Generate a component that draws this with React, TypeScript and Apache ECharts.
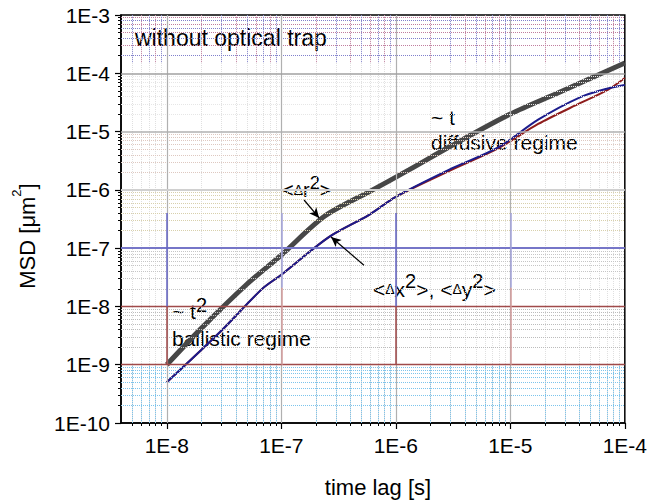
import React, { useEffect, useRef } from 'react';
import * as echarts from 'echarts';

const FONT = "'Liberation Sans', Arial, Helvetica, sans-serif";

// <Δr²> (grey, thick)
const rTime = [1e-8, 2e-8, 5e-8, 1e-7, 2.4e-7, 6e-7, 1.3e-6, 3e-6, 1e-5, 2.6e-5, 1e-4];
const rMsd = [1.0e-9, 4.2e-9, 2.4e-8, 7.6e-8, 3.55e-7, 9.5e-7, 2.2e-6, 5.6e-6, 2.0e-5, 4.6e-5, 1.5e-4];
// <Δx²> (blue)
const xTime = [1e-8, 2.9e-8, 6.8e-8, 1e-7, 2.6e-7, 5.8e-7, 1e-6, 2.9e-6, 7.9e-6, 1.75e-5, 4.1e-5, 7.1e-5, 1e-4];
const xMsd = [5.0e-10, 3.6e-9, 2.0e-8, 3.5e-8, 1.55e-7, 3.7e-7, 7.6e-7, 2.2e-6, 5.4e-6, 1.6e-5, 3.9e-5, 5.5e-5, 6.3e-5];
// <Δy²> (red)
const yTime = [1e-8, 2.9e-8, 6.8e-8, 1e-7, 2.6e-7, 5.8e-7, 1e-6, 2.9e-6, 7.9e-6, 1.75e-5, 4.1e-5, 7.1e-5, 1e-4];
const yMsd = [5.0e-10, 3.6e-9, 2.0e-8, 3.5e-8, 1.55e-7, 3.7e-7, 7.6e-7, 2.1e-6, 5.2e-6, 1.35e-5, 3.1e-5, 5.2e-5, 8.3e-5];

// axes
const xMin = 3.98e-9;
const xMax = 1e-4;
const yMin = 1e-10;
const yMax = 1e-3;
const xTicks = [1e-8, 1e-7, 1e-6, 1e-5, 1e-4];
const yTicks = [1e-10, 1e-9, 1e-8, 1e-7, 1e-6, 1e-5, 1e-4, 1e-3];

// arrows (data coordinates)
const arrowDr = [[1.58e-7, 6.7e-7], [2.14e-7, 3.3e-7]];
const arrowDx = [[5.27e-7, 5.1e-8], [2.72e-7, 1.55e-7]];

function minorValues(lo: number, hi: number): number[] {
  const out: number[] = [];
  const e0 = Math.floor(Math.log10(lo));
  const e1 = Math.ceil(Math.log10(hi));
  for (let e = e0; e < e1; e++) {
    for (let k = 2; k <= 9; k++) {
      const v = k * Math.pow(10, e);
      if (v > lo * 1.05 && v < hi) out.push(v);
    }
  }
  return out;
}
const xMinor = minorValues(xMin, xMax);
const yMinor = minorValues(yMin, yMax);

const pairs = (t: number[], v: number[]) => t.map((x, i) => [x, v[i]]);
const fmt = (v: number) => '1E' + Math.round(Math.log10(v));

// styles of major horizontal grid lines, by y tick index (null = not drawn)
const hStyles: any[] = [
  null,
  { color: '#a04a4a', width: 1.3 },
  { color: '#a04a4a', width: 1.3 },
  { color: '#7676c8', width: 2 },
  { color: '#d0d0d0', width: 2.2 },
  { color: '#b0b0b0', width: 1.5 },
  { color: '#a0a0a0', width: 1.5 },
  null,
];
// minor horizontal colours by decade (from 1E-10 upwards)
const decadeColors = ['#7cc4ec', '#bcbcbc', '#c6c6c6', '#d8d0ac', '#dec8c0', '#e6e6e6', '#c07e9e'];

export default function App() {
  const ref = useRef<HTMLDivElement>(null);

  useEffect(() => {
    if (!ref.current) return;
    const chart = echarts.init(ref.current, undefined, { renderer: 'svg' });

    const seg = (a: number[], b: number[], style: any) => [{ coord: a, lineStyle: style }, { coord: b }];

    const minorMarks: any[] = [];
    yMinor.forEach((v, i) => {
      const d = Math.min(6, Math.floor(Math.log10(v) + 1e-9) + 10);
      let c = decadeColors[d];
      if (d === 6) c = i % 2 ? '#c07e9e' : '#8080cc';
      minorMarks.push(seg([xMin, v], [xMax, v], { type: 'dotted', color: c, width: 1 }));
    });
    // dotted bands at top and bottom (vertical)
    xMinor.forEach((v, i) => {
      minorMarks.push(seg([v, 1.55e-4], [v, yMax], { type: 'dotted', color: i % 2 ? '#c07e9e' : '#8080cc', width: 1 }));
      minorMarks.push(seg([v, yMin], [v, 1e-9], { type: 'dotted', color: '#7cc4ec', width: 1 }));
    });

    const majorMarks: any[] = [];
    xTicks.forEach((v) => {
      if (v < xMax) majorMarks.push(seg([v, yMin], [v, yMax], { type: 'solid', color: '#b0b0b0', width: 1.2 }));
    });
    yTicks.forEach((v, i) => {
      const s = hStyles[i];
      if (s) majorMarks.push(seg([xMin, v], [xMax, v], { type: 'solid', ...s }));
    });
    // coloured segments of the vertical major lines
    xTicks.forEach((v, i) => {
      if (v >= xMax) return;
      const strong = i % 2 === 0;
      const split = strong ? 1e-8 : 2.1e-8;
      majorMarks.push(seg([v, 4e-7], [v, split], { type: 'solid', color: strong ? '#6464c4' : '#a4a4dc', width: 1.5 }));
      majorMarks.push(seg([v, split], [v, 1e-9], { type: 'solid', color: strong ? '#a04848' : '#d49c9c', width: 1.5 }));
    });

    const markCommon = {
      silent: true,
      symbol: 'none',
      animation: false,
      label: { show: false },
      emphasis: { disabled: true },
    };

    const lineCommon = {
      type: 'line',
      showSymbol: false,
      symbol: 'none',
      smooth: 0.3,
      xAxisIndex: 0,
      yAxisIndex: 0,
      silent: true,
    };

    const richSup = (sup: number, lh: number, supLh: number, d: number) => ({
      d: { fontSize: d, fontFamily: FONT, fill: '#000', lineHeight: lh },
      s: { fontSize: sup, fontFamily: FONT, fill: '#000', lineHeight: supLh, verticalAlign: 'top' },
    });

    const text = (x: number, y: number, t: string, size: number, extra: any = {}) => ({
      type: 'text',
      x,
      y,
      silent: true,
      style: {
        text: t,
        fontSize: size,
        fontFamily: FONT,
        fill: '#000',
        align: 'left',
        verticalAlign: 'middle',
        ...extra,
      },
    });

    chart.setOption({
      animation: false,
      backgroundColor: '#fff',
      grid: {
        left: 121,
        right: 22,
        top: 15,
        bottom: 78,
        show: true,
        borderColor: '#000',
        borderWidth: 1.5,
        backgroundColor: '#fff',
      },
      xAxis: [
        {
          type: 'log',
          logBase: 10,
          min: xMin,
          max: xMax,
          position: 'bottom',
          axisLine: { show: true, onZero: false, lineStyle: { color: '#000', width: 1.5 } },
          axisTick: { show: true, customValues: xTicks, length: 6, lineStyle: { color: '#000', width: 1.2 } },
          axisLabel: { show: true, customValues: xTicks, formatter: fmt, fontFamily: FONT, fontSize: 21, color: '#000', margin: 12 },
          splitLine: { show: false },
          minorTick: { show: false },
          minorSplitLine: { show: false },
        },
        {
          type: 'log',
          logBase: 10,
          min: xMin,
          max: xMax,
          position: 'bottom',
          axisLine: { show: false, onZero: false },
          axisTick: { show: true, customValues: xMinor, length: 3, lineStyle: { color: '#000', width: 1 } },
          axisLabel: { show: false },
          splitLine: { show: true, lineStyle: { color: '#e0e0e0', type: 'dotted', width: 1 } },
        },
      ],
      yAxis: [
        {
          type: 'log',
          logBase: 10,
          min: yMin,
          max: yMax,
          position: 'left',
          axisLine: { show: true, onZero: false, lineStyle: { color: '#000', width: 1.5 } },
          axisTick: { show: true, customValues: yTicks, length: 6, lineStyle: { color: '#000', width: 1.2 } },
          axisLabel: { show: true, customValues: yTicks, formatter: fmt, fontFamily: FONT, fontSize: 21, color: '#000', margin: 11 },
          splitLine: { show: false },
          minorTick: { show: false },
          minorSplitLine: { show: false },
        },
        {
          type: 'log',
          logBase: 10,
          min: yMin,
          max: yMax,
          position: 'left',
          axisLine: { show: false, onZero: false },
          axisTick: { show: true, customValues: yMinor, length: 3, lineStyle: { color: '#000', width: 1 } },
          axisLabel: { show: false },
          splitLine: { show: false },
        },
      ],
      series: [
        {
          type: 'line',
          name: 'minor grid',
          data: [],
          silent: true,
          z: 1,
          xAxisIndex: 0,
          yAxisIndex: 0,
          markLine: { ...markCommon, data: minorMarks },
        },
        {
          type: 'line',
          name: 'major grid',
          data: [],
          silent: true,
          z: 1,
          xAxisIndex: 0,
          yAxisIndex: 0,
          markLine: { ...markCommon, data: majorMarks },
        },
        { ...lineCommon, name: '<Δy²>', z: 2, data: pairs(yTime, yMsd), lineStyle: { color: '#8e1c1c', width: 2 } },
        { ...lineCommon, name: '<Δx²>', z: 3, data: pairs(xTime, xMsd), lineStyle: { color: '#1c1c8c', width: 2 } },
        { ...lineCommon, name: '<Δr²>', z: 4, data: pairs(rTime, rMsd), lineStyle: { color: '#474747', width: 5 } },
        {
          type: 'line',
          name: 'arrows',
          data: [],
          silent: true,
          z: 5,
          xAxisIndex: 0,
          yAxisIndex: 0,
          markLine: {
            ...markCommon,
            symbol: ['none', 'arrow'],
            symbolSize: [7, 10],
            lineStyle: { color: '#000', width: 1.2, type: 'solid' },
            data: [
              [{ coord: arrowDr[0] }, { coord: arrowDr[1] }],
              [{ coord: arrowDx[0] }, { coord: arrowDx[1] }],
            ],
          },
        },
      ],
      graphic: [
        text(135, 38, 'without optical trap', 23),
        text(431, 117, '~ t', 21),
        text(431, 142, 'diffusive regime', 21),
        text(172, 311, '~ t{s|2}', 21, { lineHeight: 32, rich: richSup(20, 32, 14, 14) }),
        text(172, 338, 'ballistic regime', 21),
        text(282, 190, '<{d|Δ}r{s|2}>', 20, { lineHeight: 32, rich: richSup(18, 32, 14, 14) }),
        text(373, 289, '<{d|Δ}x{s|2}>, <{d|Δ}y{s|2}>', 21, { lineHeight: 36, rich: richSup(20, 36, 12, 14) }),
        text(378, 487, 'time lag [s]', 22, { align: 'center' }),
        {
          type: 'text',
          x: 27,
          y: 236,
          rotation: Math.PI / 2,
          silent: true,
          style: {
            text: 'MSD [μm{s|2}]',
            fontSize: 22,
            fontFamily: FONT,
            fill: '#000',
            align: 'center',
            verticalAlign: 'middle',
            lineHeight: 34,
            rich: {
              s: { fontSize: 13, fontFamily: FONT, fill: '#000', lineHeight: 12, verticalAlign: 'top' },
            },
          },
        },
      ],
    });

    return () => {
      chart.dispose();
    };
  }, []);

  return (
    <div
      ref={ref}
      style={{ position: 'fixed', left: 0, top: 0, width: 650, height: 501, background: '#fff' }}
    />
  );
}
